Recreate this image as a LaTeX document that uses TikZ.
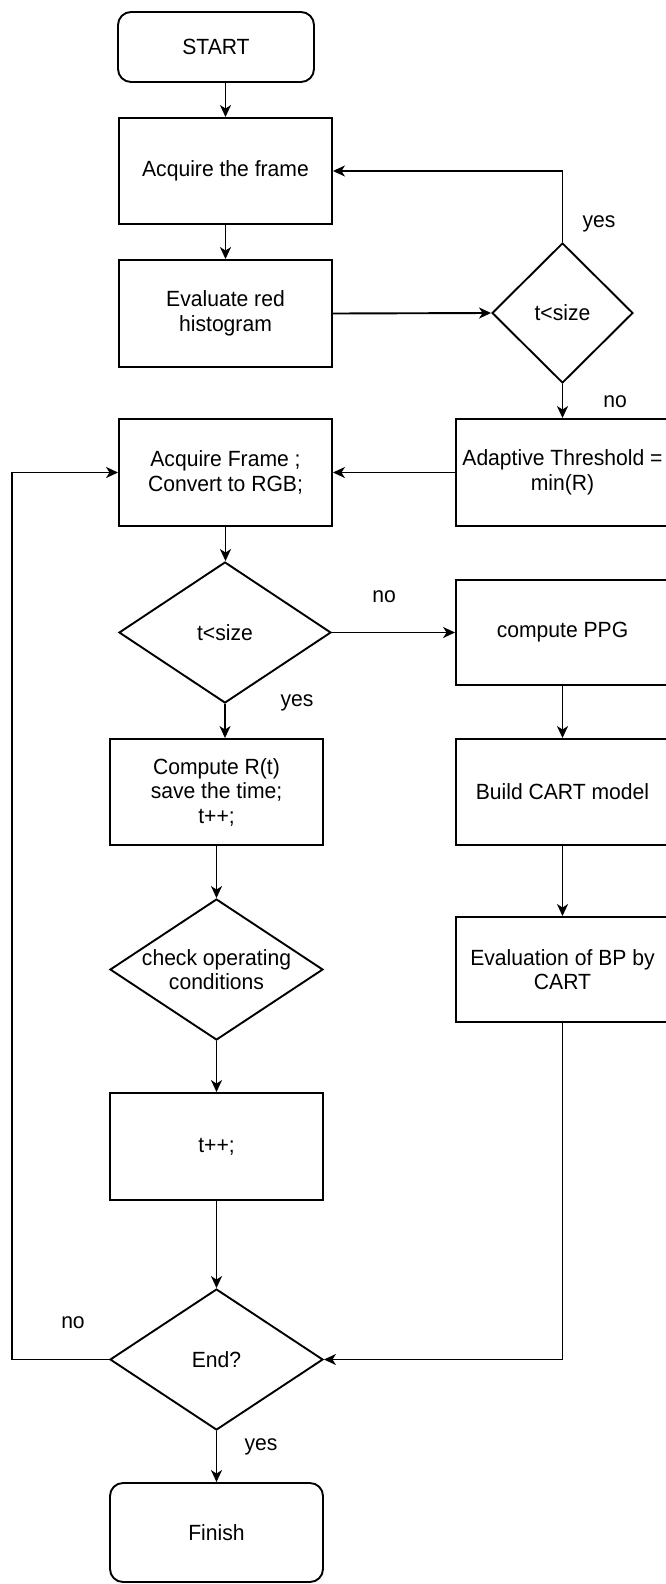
\documentclass[tikz,border=0pt]{standalone}
\usepackage{fontspec}
\setmainfont[FakeStretch=0.96]{Liberation Sans}
\usetikzlibrary{shapes.geometric,arrows.meta}

\tikzset{
  procbox/.style={draw, rectangle, line width=1.9pt, minimum width=213pt, minimum height=106pt, align=center, inner sep=2pt},
  termbox/.style={procbox, rounded corners=13pt},
  decbox/.style={draw, diamond, line width=1.9pt, inner sep=0pt, minimum width=213pt, minimum height=141pt},
  flow/.style={line width=1.9pt, -{Stealth[length=12pt,width=11pt,inset=3.5pt]}},
  branch/.style={inner sep=0pt}
}

\begin{document}
\begin{tikzpicture}[x=1pt,y=-1pt,font=\fontsize{22}{24.5}\selectfont]
\useasboundingbox (0,0) rectangle (666,1584);

\node[termbox, minimum width=196pt, minimum height=70pt] (start) at (216,47) {START};
\node[procbox] (acq) at (225.5,171) {Acquire the frame};
\node[procbox, minimum height=107pt] (evalred) at (225.5,313.5) {Evaluate red\\histogram};
\node[decbox, minimum width=141pt, minimum height=140pt, label=center:{t<size}] (dec1) at (562.5,313) {};
\node[procbox, minimum height=107pt] (thresh) at (562.5,472.5) {Adaptive Threshold =\\min(R)};
\node[procbox, minimum height=107pt] (frame) at (225.5,472.5) {Acquire Frame ;\\Convert to RGB;};
\node[decbox, minimum width=212pt, label=center:{t<size}] (dec2) at (225,632.5) {};
\node[procbox, minimum height=105pt] (ppg) at (562.5,632.5) {compute PPG};
\node[procbox] (comp) at (216.5,792) {Compute R(t)\\save the time;\\t++;};
\node[procbox] (cart) at (562.5,792) {Build CART model};
\node[decbox, label={[align=center]center:check operating\\conditions}] (check) at (216.5,969.5) {};
\node[procbox, minimum height=105pt] (evalbp) at (562.5,969.5) {Evaluation of BP by\\CART};
\node[procbox, minimum height=107pt] (tpp) at (216.5,1146.5) {t++;};
\node[decbox, label=center:{End?}] (enddec) at (216.5,1359.5) {};
\node[termbox, minimum height=99pt] (finish) at (216.5,1532.5) {Finish};

\node[branch] (yes1) at (599,224) {yes};
\node[branch] (no1) at (615,402) {no};
\node[branch] (no2) at (384,597) {no};
\node[branch] (yes2) at (297,703) {yes};
\node[branch] (no3) at (73,1323) {no};
\node[branch] (yes3) at (261,1447) {yes};

\draw[flow] (acq.north |- start.south) -- (acq.north);
\draw[flow] (acq) -- (evalred);
\draw[flow] (evalred.east) -- (dec1.west);
\draw[flow] (dec1.north) |- (acq.east);
\draw[flow] (dec1) -- (thresh);
\draw[flow] (thresh) -- (frame);
\draw[flow] (frame.south) -- (frame.south |- dec2.north);
\draw[flow] (dec2) -- (ppg);
\draw[flow] (dec2.south) -- (dec2.south |- comp.north);
\draw[flow] (ppg) -- (cart);
\draw[flow] (comp) -- (check);
\draw[flow] (cart) -- (evalbp);
\draw[flow] (check) -- (tpp);
\draw[flow] (tpp) -- (enddec);
\draw[flow] (evalbp.south) |- (enddec.east);
\coordinate (loopleft) at (12,1359.5);
\draw[flow] (enddec.west) -- (loopleft) |- (frame.west);
\draw[flow] (enddec) -- (finish);
\end{tikzpicture}
\end{document}
